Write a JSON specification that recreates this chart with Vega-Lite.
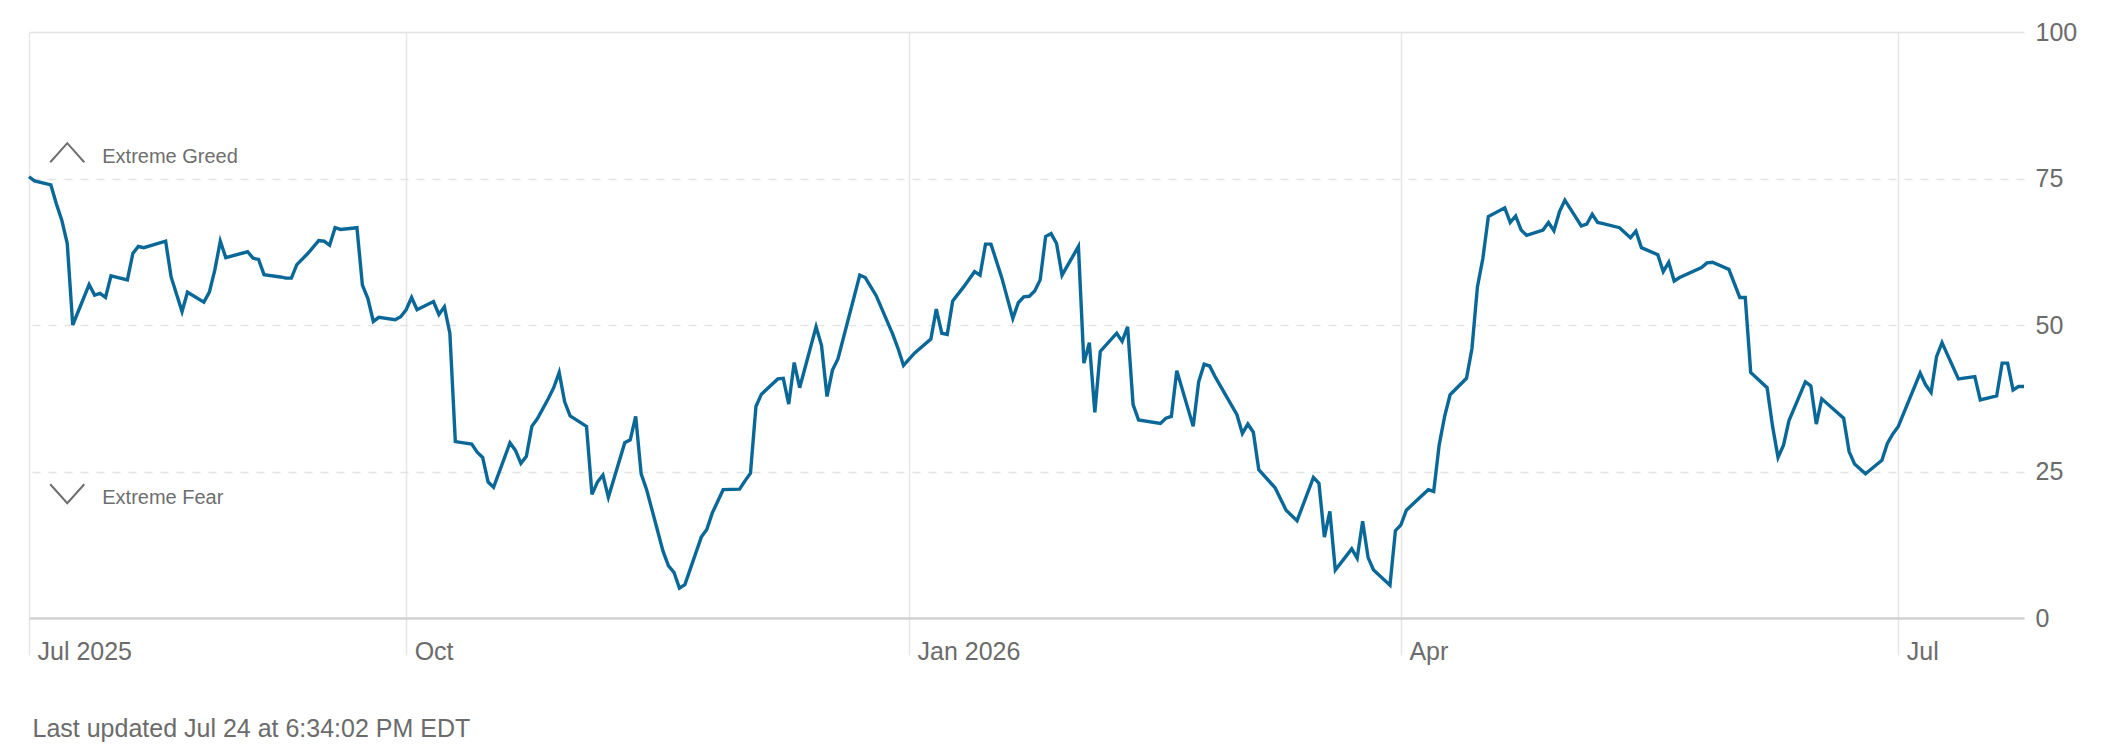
{
  "$schema": "https://vega.github.io/schema/vega-lite/v6.json",
  "width": 1995,
  "height": 586,
  "autosize": {"type": "none"},
  "padding": {"left": 29, "top": 32, "right": 78, "bottom": 138},
  "background": "white",
  "datasets": {
    "fearGreed": [
      {"date": "2025-07-24", "value": 75.3},
      {"date": "2025-07-25", "value": 74.6},
      {"date": "2025-07-28", "value": 73.9},
      {"date": "2025-07-29", "value": 70.7},
      {"date": "2025-07-30", "value": 67.9},
      {"date": "2025-07-31", "value": 63.9},
      {"date": "2025-08-01", "value": 50.0},
      {"date": "2025-08-04", "value": 56.9},
      {"date": "2025-08-05", "value": 55.1},
      {"date": "2025-08-06", "value": 55.4},
      {"date": "2025-08-07", "value": 54.7},
      {"date": "2025-08-08", "value": 58.4},
      {"date": "2025-08-11", "value": 57.7},
      {"date": "2025-08-12", "value": 62.2},
      {"date": "2025-08-13", "value": 63.4},
      {"date": "2025-08-14", "value": 63.2},
      {"date": "2025-08-18", "value": 64.3},
      {"date": "2025-08-19", "value": 58.2},
      {"date": "2025-08-21", "value": 52.3},
      {"date": "2025-08-22", "value": 55.6},
      {"date": "2025-08-25", "value": 53.9},
      {"date": "2025-08-26", "value": 55.6},
      {"date": "2025-08-27", "value": 59.4},
      {"date": "2025-08-28", "value": 64.3},
      {"date": "2025-08-29", "value": 61.5},
      {"date": "2025-09-02", "value": 62.5},
      {"date": "2025-09-03", "value": 61.4},
      {"date": "2025-09-04", "value": 61.2},
      {"date": "2025-09-05", "value": 58.6},
      {"date": "2025-09-08", "value": 58.2},
      {"date": "2025-09-09", "value": 58.0},
      {"date": "2025-09-10", "value": 58.0},
      {"date": "2025-09-11", "value": 60.3},
      {"date": "2025-09-13", "value": 62.2},
      {"date": "2025-09-15", "value": 64.4},
      {"date": "2025-09-16", "value": 64.3},
      {"date": "2025-09-17", "value": 63.6},
      {"date": "2025-09-18", "value": 66.6},
      {"date": "2025-09-19", "value": 66.3},
      {"date": "2025-09-22", "value": 66.6},
      {"date": "2025-09-23", "value": 56.8},
      {"date": "2025-09-24", "value": 54.5},
      {"date": "2025-09-25", "value": 50.6},
      {"date": "2025-09-26", "value": 51.3},
      {"date": "2025-09-29", "value": 50.9},
      {"date": "2025-09-30", "value": 51.4},
      {"date": "2025-10-01", "value": 52.6},
      {"date": "2025-10-02", "value": 54.7},
      {"date": "2025-10-03", "value": 52.6},
      {"date": "2025-10-06", "value": 54.0},
      {"date": "2025-10-07", "value": 51.8},
      {"date": "2025-10-08", "value": 53.1},
      {"date": "2025-10-09", "value": 48.6},
      {"date": "2025-10-10", "value": 30.1},
      {"date": "2025-10-13", "value": 29.7},
      {"date": "2025-10-14", "value": 28.3},
      {"date": "2025-10-15", "value": 27.4},
      {"date": "2025-10-16", "value": 23.2},
      {"date": "2025-10-17", "value": 22.3},
      {"date": "2025-10-20", "value": 29.9},
      {"date": "2025-10-21", "value": 28.6},
      {"date": "2025-10-22", "value": 26.4},
      {"date": "2025-10-23", "value": 27.6},
      {"date": "2025-10-24", "value": 32.7},
      {"date": "2025-10-25", "value": 34.0},
      {"date": "2025-10-27", "value": 37.4},
      {"date": "2025-10-28", "value": 39.3},
      {"date": "2025-10-29", "value": 41.9},
      {"date": "2025-10-30", "value": 36.9},
      {"date": "2025-10-31", "value": 34.5},
      {"date": "2025-11-03", "value": 32.7},
      {"date": "2025-11-04", "value": 21.1},
      {"date": "2025-11-05", "value": 23.2},
      {"date": "2025-11-06", "value": 24.4},
      {"date": "2025-11-07", "value": 20.6},
      {"date": "2025-11-10", "value": 29.9},
      {"date": "2025-11-11", "value": 30.4},
      {"date": "2025-11-12", "value": 34.4},
      {"date": "2025-11-13", "value": 24.6},
      {"date": "2025-11-14", "value": 21.9},
      {"date": "2025-11-17", "value": 11.4},
      {"date": "2025-11-18", "value": 8.9},
      {"date": "2025-11-19", "value": 7.8},
      {"date": "2025-11-20", "value": 5.1},
      {"date": "2025-11-21", "value": 5.7},
      {"date": "2025-11-24", "value": 13.8},
      {"date": "2025-11-25", "value": 15.1},
      {"date": "2025-11-26", "value": 17.9},
      {"date": "2025-11-28", "value": 21.9},
      {"date": "2025-12-01", "value": 22.0},
      {"date": "2025-12-02", "value": 23.4},
      {"date": "2025-12-03", "value": 24.7},
      {"date": "2025-12-04", "value": 36.1},
      {"date": "2025-12-05", "value": 38.2},
      {"date": "2025-12-08", "value": 40.8},
      {"date": "2025-12-09", "value": 40.9},
      {"date": "2025-12-10", "value": 36.5},
      {"date": "2025-12-11", "value": 43.6},
      {"date": "2025-12-12", "value": 39.3},
      {"date": "2025-12-15", "value": 49.7},
      {"date": "2025-12-16", "value": 46.5},
      {"date": "2025-12-17", "value": 37.8},
      {"date": "2025-12-18", "value": 42.3},
      {"date": "2025-12-19", "value": 44.2},
      {"date": "2025-12-23", "value": 58.5},
      {"date": "2025-12-24", "value": 58.1},
      {"date": "2025-12-26", "value": 55.0},
      {"date": "2025-12-29", "value": 48.5},
      {"date": "2025-12-30", "value": 46.0},
      {"date": "2025-12-31", "value": 43.1},
      {"date": "2026-01-02", "value": 45.2},
      {"date": "2026-01-05", "value": 47.6},
      {"date": "2026-01-06", "value": 52.7},
      {"date": "2026-01-07", "value": 48.6},
      {"date": "2026-01-08", "value": 48.4},
      {"date": "2026-01-09", "value": 54.1},
      {"date": "2026-01-11", "value": 56.5},
      {"date": "2026-01-13", "value": 59.1},
      {"date": "2026-01-14", "value": 58.5},
      {"date": "2026-01-15", "value": 63.8},
      {"date": "2026-01-16", "value": 63.8},
      {"date": "2026-01-18", "value": 58.0},
      {"date": "2026-01-20", "value": 51.1},
      {"date": "2026-01-21", "value": 53.8},
      {"date": "2026-01-22", "value": 54.8},
      {"date": "2026-01-23", "value": 54.9},
      {"date": "2026-01-24", "value": 55.8},
      {"date": "2026-01-25", "value": 57.7},
      {"date": "2026-01-26", "value": 65.1},
      {"date": "2026-01-27", "value": 65.6},
      {"date": "2026-01-28", "value": 63.9},
      {"date": "2026-01-29", "value": 58.5},
      {"date": "2026-02-01", "value": 63.4},
      {"date": "2026-02-02", "value": 43.5},
      {"date": "2026-02-03", "value": 47.0},
      {"date": "2026-02-04", "value": 35.1},
      {"date": "2026-02-05", "value": 45.5},
      {"date": "2026-02-08", "value": 48.6},
      {"date": "2026-02-09", "value": 47.2},
      {"date": "2026-02-10", "value": 49.7},
      {"date": "2026-02-11", "value": 36.4},
      {"date": "2026-02-12", "value": 33.8},
      {"date": "2026-02-16", "value": 33.2},
      {"date": "2026-02-17", "value": 34.1},
      {"date": "2026-02-18", "value": 34.4},
      {"date": "2026-02-19", "value": 42.2},
      {"date": "2026-02-22", "value": 32.7},
      {"date": "2026-02-23", "value": 40.3},
      {"date": "2026-02-24", "value": 43.3},
      {"date": "2026-02-25", "value": 43.0},
      {"date": "2026-02-26", "value": 41.2},
      {"date": "2026-03-02", "value": 34.7},
      {"date": "2026-03-03", "value": 31.5},
      {"date": "2026-03-04", "value": 33.1},
      {"date": "2026-03-05", "value": 31.7},
      {"date": "2026-03-06", "value": 25.3},
      {"date": "2026-03-09", "value": 22.2},
      {"date": "2026-03-11", "value": 18.4},
      {"date": "2026-03-13", "value": 16.6},
      {"date": "2026-03-16", "value": 24.0},
      {"date": "2026-03-17", "value": 23.0},
      {"date": "2026-03-18", "value": 13.8},
      {"date": "2026-03-19", "value": 18.2},
      {"date": "2026-03-20", "value": 8.2},
      {"date": "2026-03-23", "value": 11.8},
      {"date": "2026-03-24", "value": 10.2},
      {"date": "2026-03-25", "value": 16.5},
      {"date": "2026-03-26", "value": 10.3},
      {"date": "2026-03-27", "value": 8.2},
      {"date": "2026-03-30", "value": 5.6},
      {"date": "2026-03-31", "value": 14.9},
      {"date": "2026-04-01", "value": 15.9},
      {"date": "2026-04-02", "value": 18.4},
      {"date": "2026-04-03", "value": 19.3},
      {"date": "2026-04-06", "value": 21.9},
      {"date": "2026-04-07", "value": 21.6},
      {"date": "2026-04-08", "value": 29.5},
      {"date": "2026-04-09", "value": 34.4},
      {"date": "2026-04-10", "value": 38.1},
      {"date": "2026-04-13", "value": 40.9},
      {"date": "2026-04-14", "value": 46.0},
      {"date": "2026-04-15", "value": 56.5},
      {"date": "2026-04-16", "value": 61.4},
      {"date": "2026-04-17", "value": 68.5},
      {"date": "2026-04-20", "value": 70.0},
      {"date": "2026-04-21", "value": 67.5},
      {"date": "2026-04-22", "value": 68.6},
      {"date": "2026-04-23", "value": 66.2},
      {"date": "2026-04-24", "value": 65.3},
      {"date": "2026-04-27", "value": 66.2},
      {"date": "2026-04-28", "value": 67.5},
      {"date": "2026-04-29", "value": 66.1},
      {"date": "2026-04-30", "value": 69.3},
      {"date": "2026-05-01", "value": 71.3},
      {"date": "2026-05-04", "value": 66.9},
      {"date": "2026-05-05", "value": 67.2},
      {"date": "2026-05-06", "value": 68.9},
      {"date": "2026-05-07", "value": 67.5},
      {"date": "2026-05-08", "value": 67.3},
      {"date": "2026-05-11", "value": 66.6},
      {"date": "2026-05-13", "value": 64.9},
      {"date": "2026-05-14", "value": 66.0},
      {"date": "2026-05-15", "value": 63.2},
      {"date": "2026-05-18", "value": 62.0},
      {"date": "2026-05-19", "value": 59.1},
      {"date": "2026-05-20", "value": 60.7},
      {"date": "2026-05-21", "value": 57.5},
      {"date": "2026-05-22", "value": 58.1},
      {"date": "2026-05-26", "value": 59.8},
      {"date": "2026-05-27", "value": 60.6},
      {"date": "2026-05-28", "value": 60.7},
      {"date": "2026-05-31", "value": 59.5},
      {"date": "2026-06-02", "value": 54.7},
      {"date": "2026-06-03", "value": 54.7},
      {"date": "2026-06-04", "value": 41.9},
      {"date": "2026-06-07", "value": 39.3},
      {"date": "2026-06-08", "value": 32.7},
      {"date": "2026-06-09", "value": 27.4},
      {"date": "2026-06-10", "value": 29.5},
      {"date": "2026-06-11", "value": 33.7},
      {"date": "2026-06-14", "value": 40.3},
      {"date": "2026-06-15", "value": 39.6},
      {"date": "2026-06-16", "value": 33.1},
      {"date": "2026-06-17", "value": 37.4},
      {"date": "2026-06-21", "value": 34.1},
      {"date": "2026-06-22", "value": 28.4},
      {"date": "2026-06-23", "value": 26.3},
      {"date": "2026-06-25", "value": 24.6},
      {"date": "2026-06-28", "value": 26.9},
      {"date": "2026-06-29", "value": 29.8},
      {"date": "2026-06-30", "value": 31.4},
      {"date": "2026-07-01", "value": 32.7},
      {"date": "2026-07-05", "value": 41.8},
      {"date": "2026-07-06", "value": 39.8},
      {"date": "2026-07-07", "value": 38.5},
      {"date": "2026-07-08", "value": 44.6},
      {"date": "2026-07-09", "value": 47.0},
      {"date": "2026-07-12", "value": 40.8},
      {"date": "2026-07-15", "value": 41.2},
      {"date": "2026-07-16", "value": 37.2},
      {"date": "2026-07-19", "value": 37.9},
      {"date": "2026-07-20", "value": 43.5},
      {"date": "2026-07-21", "value": 43.5},
      {"date": "2026-07-22", "value": 38.9},
      {"date": "2026-07-23", "value": 39.5},
      {"date": "2026-07-24", "value": 39.5}
    ],
    "zones": [
      {"date": "2025-07-31", "value": 79.4, "label": "Extreme Greed", "shape": "M-1,0.56L0,-0.56L1,0.56"},
      {"date": "2025-07-31", "value": 21.2, "label": "Extreme Fear", "shape": "M-1,-0.56L0,0.56L1,-0.56"}
    ]
  },
  "layer": [
    {
      "data": {"name": "fearGreed"},
      "mark": {"type": "line", "color": "#0a6899", "strokeWidth": 3.4, "strokeJoin": "miter", "interpolate": "linear"},
      "encoding": {
        "x": {
          "field": "date",
          "type": "temporal",
          "scale": {"domain": ["2025-07-24", "2026-07-24"], "nice": false},
          "axis": {
            "values": ["2025-07-24", "2025-10-01", "2026-01-01", "2026-04-01", "2026-07-01"],
            "labelExpr": "datum.index == 0 || month(datum.value) == 0 ? timeFormat(datum.value, '%b %Y') : timeFormat(datum.value, '%b')",
            "labelAlign": "left",
            "labelBaseline": "alphabetic",
            "labelOffset": 8,
            "labelPadding": 4,
            "labelFlush": false,
            "labelFontSize": 25,
            "labelColor": "#6b6b6b",
            "grid": true,
            "gridColor": "#e6e6e6",
            "gridWidth": 1.5,
            "ticks": true,
            "tickSize": 37,
            "tickColor": "#e6e6e6",
            "tickWidth": 1.5,
            "domain": true,
            "domainColor": "#d3d3d3",
            "domainWidth": 2.5,
            "title": "Last updated Jul 24 at 6:34:02 PM EDT",
            "titleX": 3,
            "titleY": 118,
            "titleAlign": "left",
            "titleAnchor": "start",
            "titleBaseline": "alphabetic",
            "titleFontSize": 25,
            "titleFontWeight": "normal",
            "titleColor": "#6b6b6b"
          }
        },
        "y": {
          "field": "value",
          "type": "quantitative",
          "scale": {"domain": [0, 100], "nice": false},
          "axis": {
            "orient": "right",
            "values": [0, 25, 50, 75, 100],
            "labelAlign": "left",
            "labelBaseline": "middle",
            "labelPadding": 11,
            "labelFontSize": 25,
            "labelColor": "#6b6b6b",
            "ticks": false,
            "domain": false,
            "grid": true,
            "gridColor": "#e3e3e3",
            "gridWidth": 1.5,
            "gridDash": {"condition": {"test": "datum.value == 100 || datum.value == 0", "value": []}, "value": [8, 8]},
            "title": null
          }
        }
      }
    },
    {
      "data": {"name": "zones"},
      "mark": {"type": "point", "filled": false, "stroke": "#6e6e6e", "strokeWidth": 2, "size": 1156, "opacity": 1},
      "encoding": {
        "x": {"field": "date", "type": "temporal"},
        "y": {"field": "value", "type": "quantitative"},
        "shape": {"field": "shape", "type": "nominal", "scale": null, "legend": null}
      }
    },
    {
      "data": {"name": "zones"},
      "mark": {"type": "text", "align": "left", "baseline": "middle", "dx": 35, "dy": 4, "fontSize": 20, "color": "#6e6e6e"},
      "encoding": {
        "x": {"field": "date", "type": "temporal"},
        "y": {"field": "value", "type": "quantitative"},
        "text": {"field": "label"}
      }
    }
  ],
  "config": {
    "view": {"stroke": null},
    "font": "Liberation Sans"
  }
}
